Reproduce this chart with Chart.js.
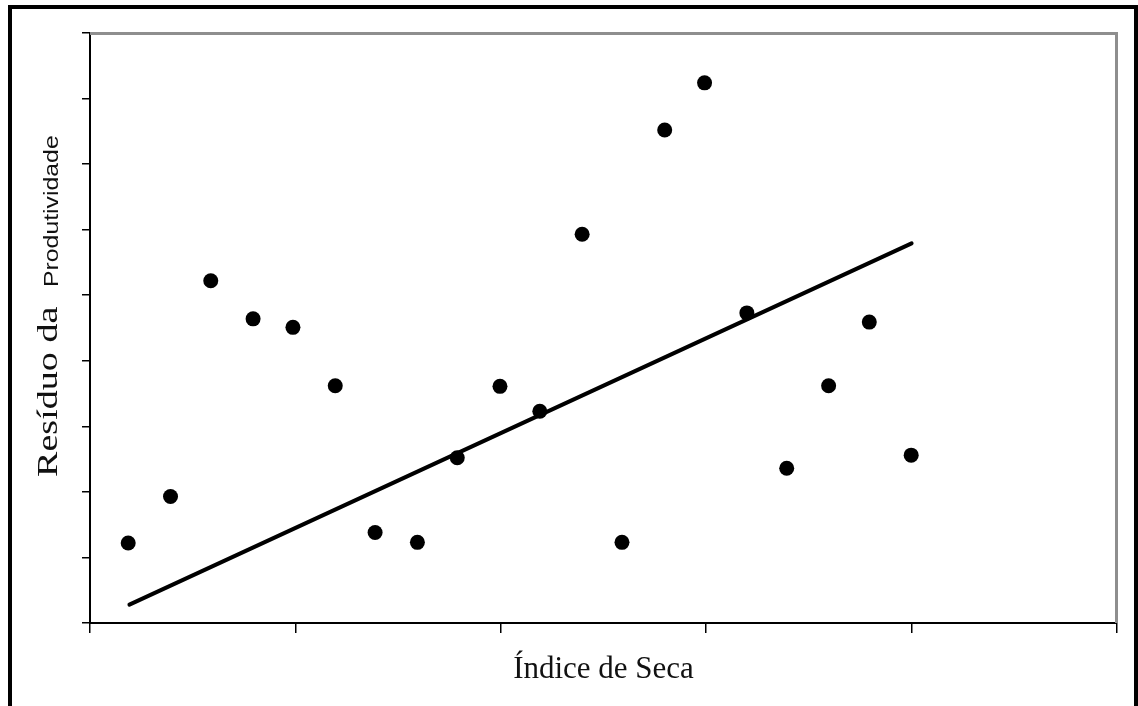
<!DOCTYPE html>
<html>
<head>
<meta charset="utf-8">
<script src="https://cdn.jsdelivr.net/npm/chart.js@4"></script>
<style>
  html, body { margin: 0; padding: 0; background: #fff; }
  canvas { display: block; }
</style>
</head>
<body>
<canvas id="grafico" width="1138" height="706"></canvas>
<script>
// valores
const indiceSeca = [0.93, 1.96, 2.94, 3.97, 4.94, 5.97, 6.94, 7.97, 8.94, 9.98,
                    10.95, 11.98, 12.95, 13.99, 14.96, 15.99, 16.96, 17.98, 18.97, 19.99];
const residuo = [1.22, 1.93, 5.22, 4.64, 4.51, 3.62, 1.38, 1.23, 2.52, 3.61,
                 3.23, 5.93, 1.23, 7.52, 8.24, 4.73, 2.36, 3.62, 4.59, 2.56];
const tendenciaX = [0.96, 20.0];
const tendenciaY = [0.28, 5.79];

const tituloX = "Índice de Seca";
const tituloY1 = "Resíduo da";
const tituloY2 = "Produtividade";

const pontos = indiceSeca.map((x, i) => ({ x: x, y: residuo[i] }));
const linha = tendenciaX.map((x, i) => ({ x: x, y: tendenciaY[i] }));

// moldura, borda cinza e títulos dos eixos
const moldura = {
    id: "moldura",
    beforeDraw(chart) {
        const c = chart.ctx;
        c.save();
        c.fillStyle = "#fff";
        c.fillRect(0, 0, chart.width, chart.height);
        c.lineWidth = 4;
        c.strokeStyle = "#000";
        c.strokeRect(10, 7, 1126, 800);
        c.restore();
    },
    afterDraw(chart) {
        const c = chart.ctx;
        const a = chart.chartArea;
        c.save();
        c.strokeStyle = "#8e8e8e";
        c.lineWidth = 3;
        c.beginPath();
        c.moveTo(a.left, a.top + 0.5);
        c.lineTo(a.right - 0.5, a.top + 0.5);
        c.lineTo(a.right - 0.5, a.bottom);
        c.stroke();

        c.fillStyle = "#111";
        c.textBaseline = "alphabetic";
        c.textAlign = "left";

        c.save();
        c.translate(57, 477);
        c.rotate(-Math.PI / 2);
        c.scale(1.27, 1);
        c.font = '30px "Liberation Serif"';
        c.fillText(tituloY1, 0, 0);
        c.restore();

        c.save();
        c.translate(58, 287);
        c.rotate(-Math.PI / 2);
        c.scale(1.26, 1);
        c.font = '19.7px "Liberation Sans"';
        c.fillText(tituloY2, 0, 0);
        c.restore();

        c.textAlign = "center";
        c.font = '31px "Liberation Serif"';
        c.fillText(tituloX, (a.left + a.right) / 2, 678);
        c.restore();
    }
};

new Chart(document.getElementById("grafico"), {
    type: "scatter",
    data: {
        datasets: [
            {
                data: pontos,
                backgroundColor: "#000",
                borderWidth: 0,
                pointRadius: 7.5,
                pointHoverRadius: 7.5,
            },
            {
                data: linha,
                showLine: true,
                borderColor: "#000",
                borderWidth: 4,
                borderCapStyle: "round",
                pointRadius: 0,
                pointHoverRadius: 0,
            },
        ],
    },
    options: {
        responsive: false,
        animation: false,
        layout: {
            padding: { left: 0, right: 21, top: 33, bottom: 0 },
        },
        scales: {
            x: {
                type: "linear",
                min: 0,
                max: 25,
                afterFit: (s) => { s.height = 83; },
                ticks: { stepSize: 5, display: false },
                grid: {
                    drawOnChartArea: false,
                    drawTicks: true,
                    tickLength: 10,
                    color: "#000",
                    lineWidth: 1.5,
                },
                border: { display: true, color: "#000", width: 2 },
            },
            y: {
                type: "linear",
                min: 0,
                max: 9,
                afterFit: (s) => { s.width = 90; },
                ticks: { stepSize: 1, display: false },
                grid: {
                    drawOnChartArea: false,
                    drawTicks: true,
                    tickLength: 8,
                    color: "#000",
                    lineWidth: 1.5,
                },
                border: { display: true, color: "#000", width: 2 },
            },
        },
        plugins: {
            legend: { display: false },
            tooltip: { enabled: false },
        },
    },
    plugins: [moldura],
});
</script>
</body>
</html>
